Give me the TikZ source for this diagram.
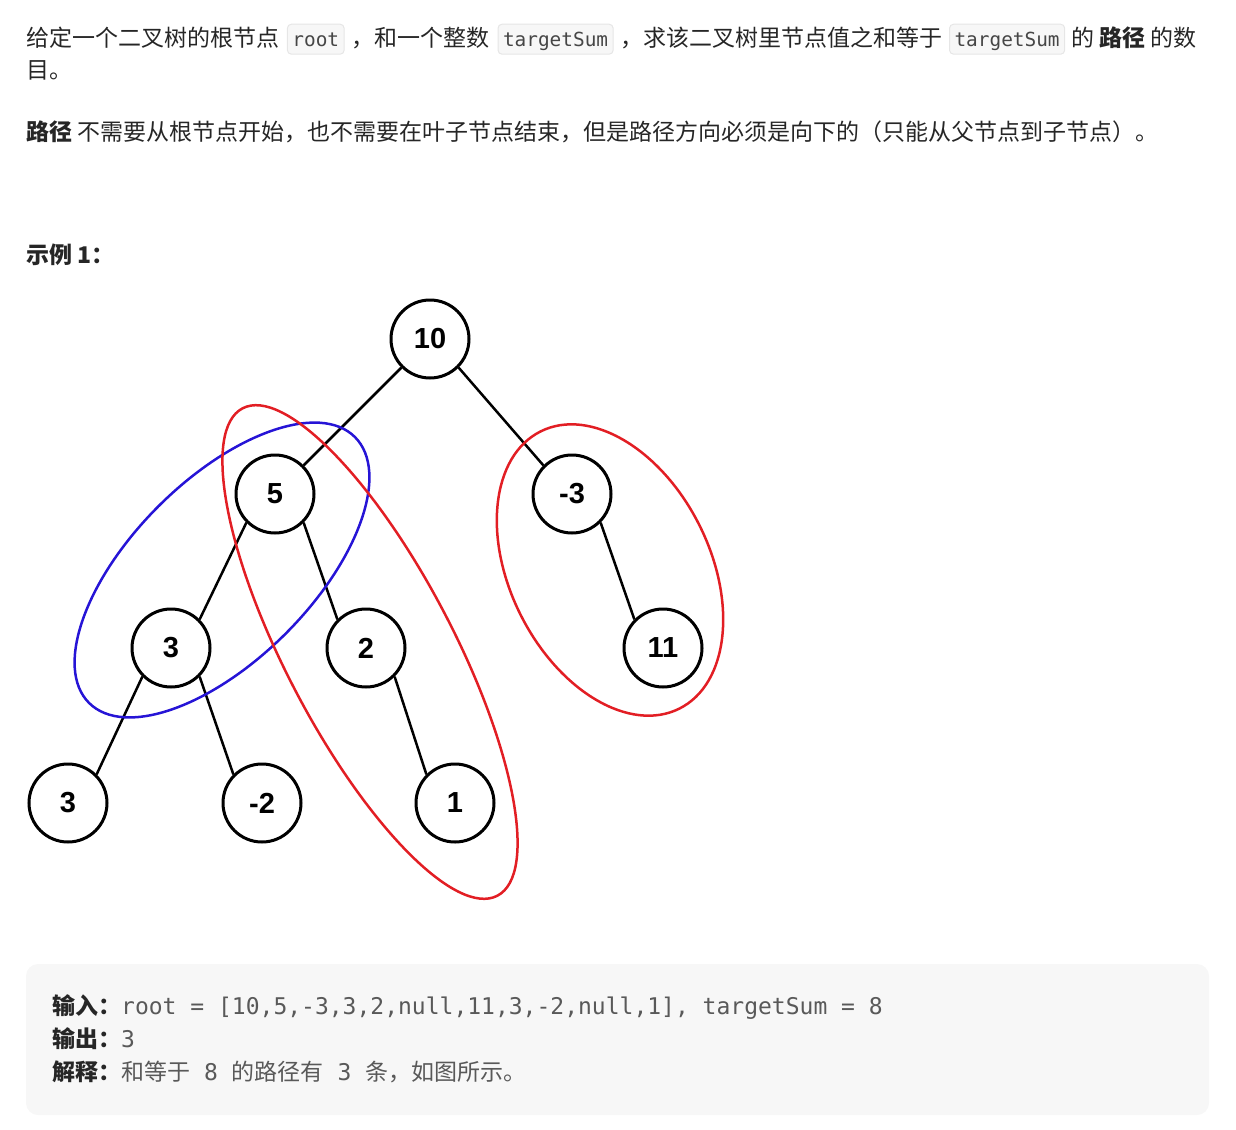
\documentclass[tikz,border=0pt]{standalone}
\usepackage{fontspec}
\setmainfont{Noto Sans CJK SC}
\setmonofont{DejaVu Sans Mono}
\newfontfamily\numfont{Liberation Sans}
\usepackage{tikz}
\usetikzlibrary{positioning}
\definecolor{ink}{RGB}{38, 38, 38}
\definecolor{softink}{RGB}{89, 89, 89}
\definecolor{codeink}{RGB}{70, 70, 70}
\definecolor{codebg}{RGB}{247, 247, 247}
\definecolor{codeline}{RGB}{230, 230, 230}
\definecolor{panel}{RGB}{247, 247, 247}
\definecolor{pathred}{RGB}{226, 30, 36}
\definecolor{pathblue}{RGB}{38, 20, 214}
\newcommand{\mono}[1]{{\fontsize{23pt}{27pt}\selectfont\ttfamily #1}}

\begin{document}
\begin{tikzpicture}[x=1pt, y=-1pt,
  txt/.style={inner sep=0pt, text=ink,
    font=\fontsize{23pt}{28pt}\selectfont},
  code/.style={rounded corners=4pt, fill=codebg, draw=codeline,
    line width=1pt, text=codeink, inner xsep=5pt, inner ysep=4pt,
    text height=18.5pt, text depth=3.5pt,
    font=\fontsize{19.4pt}{24pt}\selectfont\ttfamily},
  tnode/.style={circle, draw, line width=3pt, fill=white,
    minimum size=78pt, inner sep=0pt,
    font=\fontsize{29pt}{34pt}\selectfont\numfont\bfseries},
  link/.style={line width=2.5pt},
  ring/.style={line width=2.5pt},
  boxtxt/.style={inner sep=0pt, text=softink,
    font=\fontsize{23pt}{28pt}\selectfont}
]
\useasboundingbox (0,0) rectangle (1236,1129);

% problem statement
\node[txt, anchor=base west] at (26,46.7) (s1) {给定一个二叉树的根节点};
\node[code, right=7.5pt of s1.base east, anchor=base west] (c1) {root};
\node[txt, right=7pt of c1.base east, anchor=base west] (s2) {，和一个整数};
\node[code, right=7.5pt of s2.base east, anchor=base west] (c2) {targetSum};
\node[txt, right=7pt of c2.base east, anchor=base west] (s3) {，求该二叉树里节点值之和等于};
\node[code, right=6pt of s3.base east, anchor=base west] (c3) {targetSum};
\node[txt, right=6pt of c3.base east, anchor=base west] (s4)
  {的 \textbf{路径} 的数};
\node[txt, anchor=base west] at (26,78.7) (s5) {目。};
\node[txt, anchor=base west] at (26,140.7) (s6)
  {\textbf{路径} 不需要从根节点开始，也不需要在叶子节点结束，但是路径方向必须是向下的（只能从父节点到子节点）。};

\node[txt, anchor=base west] at (26,263.7) (ex) {\textbf{示例 1：}};

% tree
\node[tnode] at (430,339) (n10) {10};
\node[tnode] at (275,494) (n5) {5};
\node[tnode] at (572,494) (nm3) {-3};
\node[tnode] at (171,648) (n3) {3};
\node[tnode] at (366,648) (n2) {2};
\node[tnode] at (663,648) (n11) {11};
\node[tnode] at (68,803) (n3b) {3};
\node[tnode] at (262,803) (nm2) {-2};
\node[tnode] at (455,803) (n1) {1};

\draw[link] (n10.south west) -- (n5.north east);
\draw[link] (n10.south east) -- (nm3.north west);
\draw[link] (n5.south west) -- (n3.north east);
\draw[link] (n5.south east) -- (n2.north west);
\draw[link] (nm3.south east) -- (n11.north west);
\draw[link] (n3.south west) -- (n3b.north east);
\draw[link] (n3.south east) -- (nm2.north west);
\draw[link] (n2.south east) -- (n1.north west);

% the three paths
\draw[ring, pathblue, rotate around={45:(222,570)}]
  (222,570) ellipse [x radius=188pt, y radius=90pt];
\draw[ring, pathred, rotate around={-62.4:(370,652)}]
  (370,652) ellipse [x radius=275pt, y radius=84pt];
\draw[ring, pathred, rotate around={-63.4:(610,570)}]
  (610,570) ellipse [x radius=155pt, y radius=100pt];

% example panel
\fill[panel, rounded corners=12pt] (26,964) rectangle (1209,1115);
\node[boxtxt, anchor=base west] at (52,1014.4) (in)
  {\textcolor{ink}{\textbf{输入：}}\mono{root = [10,5,-3,3,2,null,11,3,-2,null,1], targetSum = 8}};
\node[boxtxt, anchor=base west] at (52,1047.4) (out)
  {\textcolor{ink}{\textbf{输出：}}\mono{3}};
\node[boxtxt, anchor=base west] at (52,1080.4) (why)
  {\textcolor{ink}{\textbf{解释：}}和等于\mono{\ 8\ }的路径有\mono{\ 3\ }条，如图所示。};
\end{tikzpicture}
\end{document}
